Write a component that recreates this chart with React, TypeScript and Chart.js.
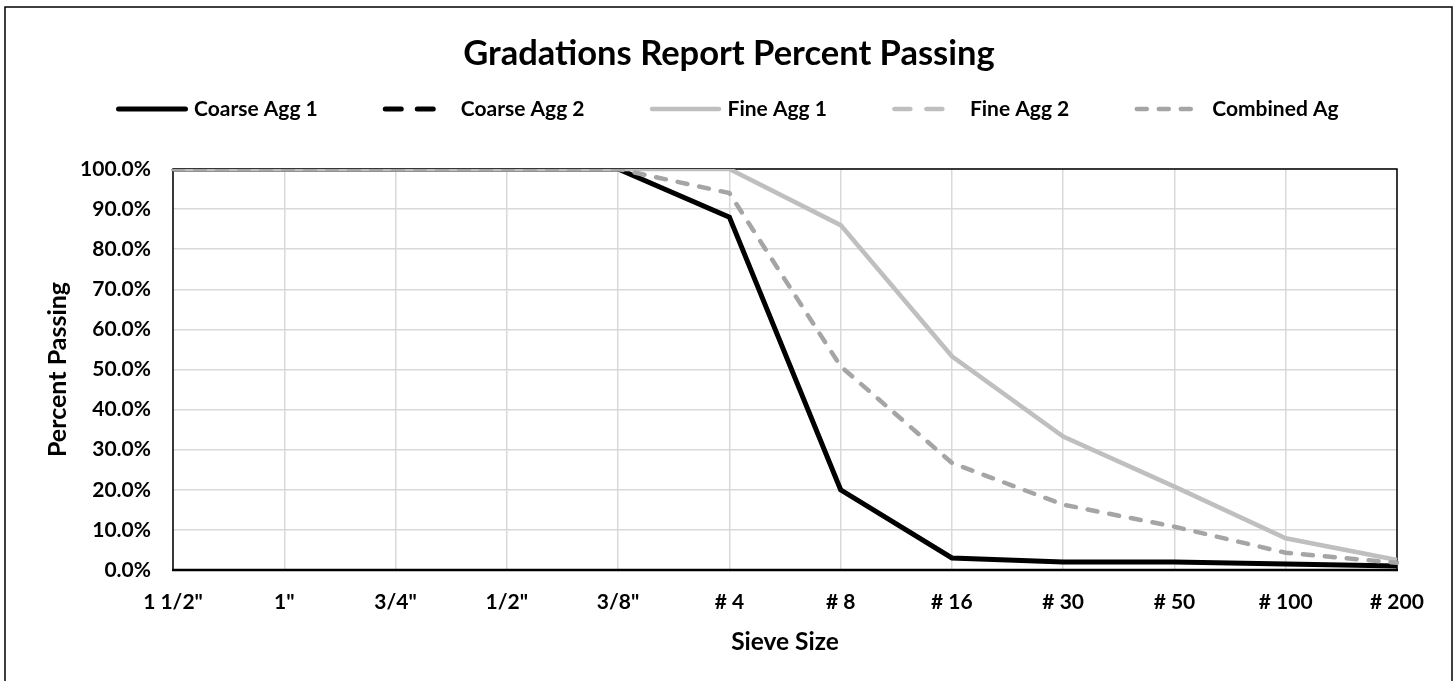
import React, { useEffect, useRef } from "react";
import { Chart, registerables } from "chart.js";

Chart.register(...registerables);

const chartTitle = "Gradations Report Percent Passing";
const xAxisTitle = "Sieve Size";
const yAxisTitle = "Percent Passing";

const sieveSizes = ['1 1/2"', '1"', '3/4"', '1/2"', '3/8"', "# 4", "# 8", "# 16", "# 30", "# 50", "# 100", "# 200"];

const coarseAgg1 = [100, 100, 100, 100, 100, 88, 20, 3, 2, 2, 1.5, 1];
const coarseAgg2: (number | null)[] = [null, null, null, null, null, null, null, null, null, null, null, null];
const fineAgg1 = [100, 100, 100, 100, 100, 100, 86, 53.3, 33.3, 20.8, 7.9, 2.5];
const fineAgg2: (number | null)[] = [null, null, null, null, null, null, null, null, null, null, null, null];
const combinedAg = [100, 100, 100, 100, 100, 94, 50.8, 26.7, 16.3, 10.8, 4.3, 1.8];

const yMin = 0;
const yMax = 100;
const yStep = 10;

const FONT = 'Lato, "Open Sans", "DejaVu Sans", sans-serif';

const chromePlugin = {
  id: "chrome",
  beforeDatasetsDraw(chart: any) {
    const { ctx, chartArea } = chart;
    ctx.save();
    ctx.strokeStyle = "#000";
    ctx.lineWidth = 1.5;
    ctx.strokeRect(chartArea.left, chartArea.top, chartArea.right - chartArea.left, chartArea.bottom - chartArea.top);
    ctx.lineWidth = 2.5;
    ctx.beginPath();
    ctx.moveTo(chartArea.left - 1, chartArea.bottom);
    ctx.lineTo(chartArea.right + 1, chartArea.bottom);
    ctx.stroke();
    ctx.restore();
  },
  afterDraw(chart: any) {
    const { ctx } = chart;
    ctx.save();
    // outer border
    ctx.strokeStyle = "#000";
    ctx.lineWidth = 1.5;
    ctx.strokeRect(5, 7, 1447, 720);
    // title
    ctx.fillStyle = "#000";
    ctx.font = `bold 34.5px ${FONT}`;
    ctx.textAlign = "center";
    ctx.textBaseline = "middle";
    ctx.fillText(chartTitle, 729, 54);
    // legend
    ctx.font = `bold 21px ${FONT}`;
    ctx.textAlign = "left";
    let x = 116;
    const y = 109;
    chart.data.datasets.forEach((ds: any) => {
      const w = ds.borderWidth;
      const dash = ds.borderDash || [];
      let len = 67;
      if (dash.length) {
        const period = dash[0] + dash[1];
        len = Math.floor((len - dash[0]) / period) * period + dash[0];
      }
      ctx.strokeStyle = ds.borderColor;
      ctx.lineWidth = w;
      ctx.lineCap = "round";
      ctx.setLineDash(dash);
      ctx.beginPath();
      ctx.moveTo(x + 2.5, y);
      ctx.lineTo(x + 2.5 + len, y);
      ctx.stroke();
      ctx.setLineDash([]);
      const tx = x + 78;
      ctx.fillStyle = "#000";
      ctx.fillText(ds.label, tx, y);
      x = tx + ctx.measureText(ds.label).width + 65;
    });
    ctx.restore();
  },
};

export default function App() {
  const canvasRef = useRef<HTMLCanvasElement | null>(null);

  useEffect(() => {
    document.body.style.margin = "0";
    const canvas = canvasRef.current;
    if (!canvas) return;
    const chart = new Chart(canvas, {
      type: "line",
      data: {
        labels: sieveSizes,
        datasets: [
          {
            label: "Coarse Agg 1",
            data: coarseAgg1,
            borderColor: "#000000",
            backgroundColor: "#000000",
            borderWidth: 5,
            pointRadius: 0,
            order: 4,
            borderJoinStyle: "miter",
          },
          {
            label: "Coarse Agg 2",
            data: coarseAgg2,
            borderColor: "#000000",
            backgroundColor: "#000000",
            borderWidth: 5,
            borderDash: [16, 16],
            borderCapStyle: "round",
            pointRadius: 0,
            order: 3,
          },
          {
            label: "Fine Agg 1",
            data: fineAgg1,
            borderColor: "#bfbfbf",
            backgroundColor: "#bfbfbf",
            borderWidth: 4.5,
            pointRadius: 0,
            order: 2,
            borderJoinStyle: "miter",
          },
          {
            label: "Fine Agg 2",
            data: fineAgg2,
            borderColor: "#bfbfbf",
            backgroundColor: "#bfbfbf",
            borderWidth: 4.5,
            borderDash: [16, 16],
            borderCapStyle: "round",
            pointRadius: 0,
            order: 1,
          },
          {
            label: "Combined Ag",
            data: combinedAg,
            borderColor: "#a5a5a5",
            backgroundColor: "#a5a5a5",
            borderWidth: 4.5,
            borderDash: [10, 12],
            borderCapStyle: "round",
            pointRadius: 0,
            order: 0,
          },
        ],
      },
      options: {
        animation: false,
        responsive: false,
        maintainAspectRatio: false,
        layout: { padding: { top: 169, right: 58, bottom: 0, left: 0 } },
        plugins: {
          legend: { display: false },
          title: { display: false },
          tooltip: { enabled: false },
        },
        scales: {
          x: {
            type: "category",
            offset: false,
            grid: { color: "#d9d9d9", lineWidth: 1.5, drawTicks: false },
            border: { display: false },
            ticks: {
              color: "#000",
              font: { family: FONT, size: 21, weight: "bold" },
              padding: 20,
              maxRotation: 0,
              minRotation: 0,
              autoSkip: false,
            },
            title: {
              display: true,
              text: xAxisTitle,
              color: "#000",
              font: { family: FONT, size: 24.5, weight: "bold" },
              padding: { top: 0, bottom: 24 },
            },
            afterFit: (scale: any) => {
              scale.height = 111;
            },
          },
          y: {
            type: "linear",
            min: yMin,
            max: yMax,
            grid: { color: "#d9d9d9", lineWidth: 1.5, drawTicks: false },
            border: { display: false },
            ticks: {
              stepSize: yStep,
              color: "#000",
              font: { family: FONT, size: 21, weight: "bold" },
              padding: 22,
              callback: (v: any) => Number(v).toFixed(1) + "%",
            },
            title: {
              display: true,
              text: yAxisTitle,
              color: "#000",
              font: { family: FONT, size: 25, weight: "bold" },
              padding: { top: 43, bottom: 0 },
            },
            afterFit: (scale: any) => {
              scale.width = 173;
            },
          },
        },
      },
      plugins: [chromePlugin],
    });
    return () => chart.destroy();
  }, []);

  return (
    <canvas
      ref={canvasRef}
      width={1455}
      height={681}
      style={{ display: "block", width: 1455, height: 681 }}
    />
  );
}
